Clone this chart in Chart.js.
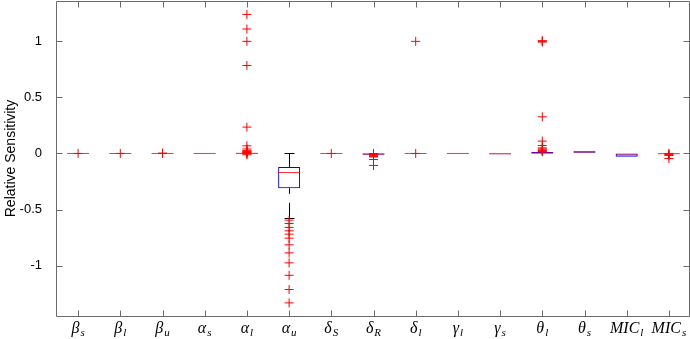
<!DOCTYPE html>
<html>
<head>
<meta charset="utf-8">
<script src="https://cdn.jsdelivr.net/npm/chart.js@4/dist/chart.umd.min.js"></script>
<style>
  body { margin: 0; background: #fff; }
  #wrap { width: 690px; height: 339px; }
</style>
</head>
<body>
<div id="wrap"><canvas id="sens-chart" width="690" height="339"></canvas></div>
<script>
// parameter names, drawn as base symbol + subscript
const labelBase = ['β', 'β', 'β', 'α', 'α', 'α', 'δ', 'δ', 'δ', 'γ', 'γ', 'θ', 'θ', 'MIC', 'MIC'];
const labelSub = ['s', 'l', 'u', 's', 'l', 'u', 'S', 'R', 'l', 'l', 's', 'l', 's', 'l', 's'];
const categories = labelBase.map((b, i) => b + '_' + labelSub[i]);

// box statistics
const q1 = [0, 0, 0, 0, 0, -0.31, 0, -0.012, 0, 0, -0.006, 0, 0.006, -0.03, -0.003];
const median = [0, 0, 0, 0, 0.001, -0.17, 0, -0.005, 0, 0, -0.003, 0.004, 0.013, -0.014, -0.002];
const q3 = [0, 0, 0, 0, 0.003, -0.12, 0, 0, 0, 0, 0, 0.012, 0.02, 0, 0];
const whiskerLow = [0, 0, 0, 0, 0, -0.574, 0, -0.012, 0, 0, -0.006, 0, 0.006, -0.03, -0.003];
const whiskerHigh = [0, 0, 0, 0, 0.003, 0, 0, 0, 0, 0, 0, 0.012, 0.02, 0, 0];

// outliers per category
const outliers = [
  [0],
  [0],
  [0, 0.003],
  [],
  [1.24, 1.11, 1.0, 0.785, 0.235, 0.068, 0.04, 0.025, 0.02, 0.015, 0.011, 0.007, 0.004, -0.004, -0.012],
  [-0.595, -0.625, -0.66, -0.69, -0.72, -0.756, -0.815, -0.887, -0.976, -1.087, -1.214, -1.333],
  [0],
  [0, -0.008, -0.014, -0.02, -0.026, -0.031, -0.054, -0.107],
  [1.0, 0],
  [],
  [],
  [1.006, 1.0, 0.994, 0.327, 0.11, 0.071, 0.05, 0.04, 0.032, 0.025, 0.02, 0.016],
  [],
  [],
  [0, -0.006, -0.012, -0.018, -0.045]
];

const yTickValues = [-1, -0.5, 0, 0.5, 1];
const yMin = -1.45;
const yMax = 1.36;

const axisColor = '#6a6a6a';
const tickLen = 6;

const outlierPoints = [];
outliers.forEach((list, i) => {
  list.forEach(v => outlierPoints.push({ x: categories[i], y: v }));
});

// dashed whiskers with caps
const whiskerPlugin = {
  id: 'whiskers',
  beforeDatasetsDraw(chart) {
    const ctx = chart.ctx;
    const xs = chart.scales.x, ys = chart.scales.y;
    ctx.save();
    ctx.strokeStyle = '#000';
    ctx.lineWidth = 1;
    categories.forEach((c, i) => {
      const x = Math.round(xs.getPixelForValue(i)) + 0.5;
      const segs = [[whiskerHigh[i], q3[i]], [whiskerLow[i], q1[i]]];
      segs.forEach(([end, edge]) => {
        if (end === edge) return;
        const yEnd = ys.getPixelForValue(end);
        const yEdge = ys.getPixelForValue(edge);
        ctx.setLineDash([15, 9]);
        ctx.beginPath();
        ctx.moveTo(x, yEnd);
        ctx.lineTo(x, yEdge);
        ctx.stroke();
        ctx.setLineDash([]);
        const yc = Math.round(yEnd) + 0.5;
        ctx.beginPath();
        ctx.moveTo(x - 5, yc);
        ctx.lineTo(x + 5, yc);
        ctx.stroke();
      });
    });
    ctx.restore();
  }
};

// box frame with inward ticks, plus the subscripted category labels
const framePlugin = {
  id: 'frame',
  afterDraw(chart) {
    const ctx = chart.ctx;
    const { left, right, top, bottom } = chart.chartArea;
    const xs = chart.scales.x, ys = chart.scales.y;
    const l = Math.round(left) - 0.5, r = Math.round(right) - 0.5;
    const t = Math.round(top) + 0.5, b = Math.round(bottom) + 0.5;
    ctx.save();
    ctx.strokeStyle = axisColor;
    ctx.lineWidth = 1;
    ctx.beginPath();
    ctx.rect(l, t, r - l, b - t);
    categories.forEach((c, i) => {
      const x = Math.round(xs.getPixelForValue(i)) + 0.5;
      ctx.moveTo(x, b); ctx.lineTo(x, b - tickLen);
      ctx.moveTo(x, t); ctx.lineTo(x, t + tickLen);
    });
    yTickValues.forEach(v => {
      const y = Math.round(ys.getPixelForValue(v)) + 0.5;
      ctx.moveTo(l, y); ctx.lineTo(l + tickLen, y);
      ctx.moveTo(r, y); ctx.lineTo(r - tickLen, y);
    });
    ctx.stroke();

    ctx.fillStyle = '#000';
    ctx.textBaseline = 'alphabetic';
    ctx.textAlign = 'left';
    const baseFont = 'italic 16px "Liberation Serif", "DejaVu Serif", serif';
    const subFont = 'italic 11px "Liberation Serif", "DejaVu Serif", serif';
    labelBase.forEach((base, i) => {
      const x = xs.getPixelForValue(i);
      ctx.font = baseFont;
      const wb = ctx.measureText(base).width;
      ctx.font = subFont;
      const ws = ctx.measureText(labelSub[i]).width;
      const x0 = x - (wb + ws + 1) / 2;
      ctx.font = baseFont;
      ctx.fillText(base, x0, 333);
      ctx.font = subFont;
      ctx.fillText(labelSub[i], x0 + wb + 1, 336);
    });
    ctx.restore();
  }
};

new Chart(document.querySelector('#sens-chart').getContext('2d'), {
  data: {
    labels: categories,
    datasets: [
      {
        type: 'line',
        label: 'outliers',
        data: outlierPoints,
        showLine: false,
        pointStyle: 'cross',
        pointRadius: 4.5,
        pointBorderWidth: 1,
        borderColor: '#ff0000',
        backgroundColor: '#ff0000',
        order: 1
      },
      {
        type: 'line',
        label: 'median',
        data: median,
        showLine: false,
        pointStyle: 'line',
        pointRadius: 11,
        pointBorderWidth: 1,
        borderColor: 'rgba(255, 0, 0, 0.8)',
        backgroundColor: 'rgba(255, 0, 0, 0.8)',
        order: 2
      },
      {
        type: 'bar',
        label: 'box',
        data: q1.map((v, i) => [v, q3[i]]),
        borderColor: '#0000ff',
        backgroundColor: 'rgba(0, 0, 0, 0)',
        borderWidth: 1,
        borderSkipped: false,
        barPercentage: 0.52,
        categoryPercentage: 1,
        order: 3
      }
    ]
  },
  options: {
    responsive: false,
    animation: false,
    layout: { autoPadding: false, padding: { top: 1, right: 0, left: 0, bottom: 0 } },
    plugins: {
      legend: { display: false },
      tooltip: { enabled: false }
    },
    scales: {
      x: {
        type: 'category',
        offset: true,
        grid: { display: false },
        border: { display: false },
        ticks: { display: false },
        afterFit: scale => {
          scale.height = 23;
          scale.paddingLeft = 0;
          scale.paddingRight = 0;
        }
      },
      y: {
        min: yMin,
        max: yMax,
        grid: { display: false },
        border: { display: false },
        afterBuildTicks: scale => { scale.ticks = yTickValues.map(v => ({ value: v })); },
        ticks: {
          color: '#000',
          padding: 7,
          font: { family: '"Liberation Sans", Arial, sans-serif', size: 13 },
          callback: v => String(v)
        },
        title: {
          display: true,
          text: 'Relative Sensitivity',
          color: '#000',
          padding: { top: 3, bottom: 0 },
          font: { family: '"Liberation Sans", Arial, sans-serif', size: 14 }
        },
        afterFit: scale => {
          scale.width = 57;
          scale.paddingTop = 0;
          scale.paddingBottom = 0;
        }
      }
    }
  },
  plugins: [whiskerPlugin, framePlugin]
});
</script>
</body>
</html>
